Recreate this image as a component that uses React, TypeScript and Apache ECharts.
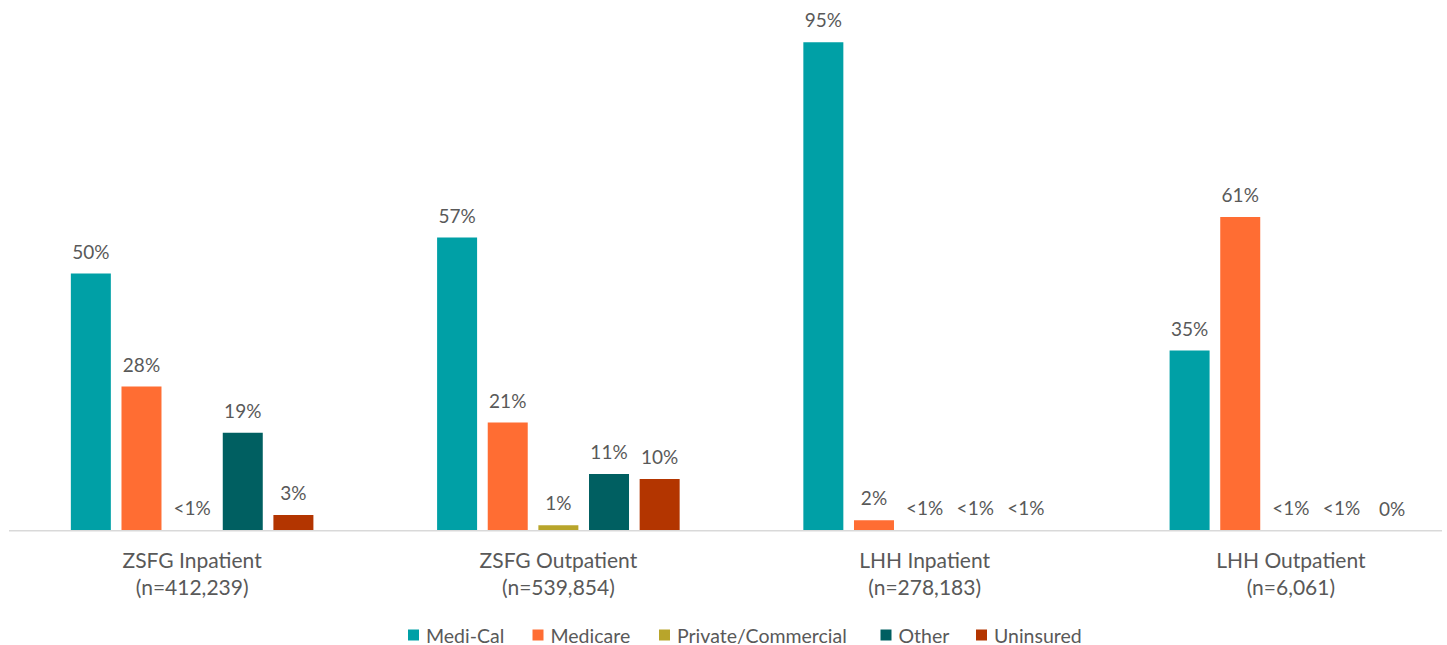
import React, { useEffect, useRef } from "react";
import * as echarts from "echarts";

const categories = [
  "ZSFG Inpatient\n(n=412,239)",
  "ZSFG Outpatient\n(n=539,854)",
  "LHH Inpatient\n(n=278,183)",
  "LHH Outpatient\n(n=6,061)",
];
const seriesNames = ["Medi-Cal", "Medicare", "Private/Commercial", "Other", "Uninsured"];
const mediCal = [50, 57, 95, 35];
const medicare = [28, 21, 2, 61];
const privateCommercial = [0.1, 1, 0.1, 0.1];
const other = [19, 11, 0.1, 0.1];
const uninsured = [3, 10, 0.1, 0];
const seriesColors = ["#00A0A6", "#FF6D33", "#B8A52B", "#005F61", "#B33500"];

const FONT = "Lato, 'Noto Sans', sans-serif";
const TEXT = "#595959";
const legendLefts = [408, 532.5, 659, 880.5, 976];

function fmt(v: number): string {
  if (v === 0) return "0%";
  if (v < 1) return "<1%";
  return Math.round(v) + "%";
}

export default function App() {
  const ref = useRef<HTMLDivElement>(null);
  useEffect(() => {
    if (!ref.current) return;
    const chart = echarts.init(ref.current, undefined, { renderer: "svg" });
    const data = [mediCal, medicare, privateCommercial, other, uninsured];
    chart.setOption({
      animation: false,
      backgroundColor: "#ffffff",
      textStyle: { fontFamily: FONT },
      grid: { left: 9, top: 16.5, width: 1465, height: 514, containLabel: false },
      legend: seriesNames.map((name, i) => ({
        data: [name],
        left: legendLefts[i],
        top: 625,
        padding: 0,
        icon: "rect",
        itemWidth: 11,
        itemHeight: 11,
        textStyle: {
          fontFamily: FONT,
          fontSize: 19.5,
          lineHeight: 20,
          color: TEXT,
          padding: [0, 0, 0, 2],
        },
      })),
      graphic: [
        {
          type: "line",
          shape: { x1: 9, y1: 530.75, x2: 1442, y2: 530.75 },
          style: { stroke: "#D9D9D9", lineWidth: 1.5 },
          z: 10,
        },
      ],
      xAxis: {
        type: "category",
        data: categories,
        axisLine: { show: false },
        axisTick: { show: false },
        axisLabel: {
          fontFamily: FONT,
          fontSize: 21,
          color: TEXT,
          lineHeight: 27,
          margin: 15,
          interval: 0,
        },
      },
      yAxis: {
        type: "value",
        min: 0,
        max: 100,
        show: false,
        splitLine: { show: false },
      },
      series: seriesNames.map((name, i) => ({
        name,
        type: "bar",
        data: data[i],
        barWidth: 40,
        barGap: "26.6%",
        itemStyle: { color: seriesColors[i] },
        label: {
          show: true,
          position: "top",
          distance: 13,
          fontFamily: FONT,
          fontSize: 19,
          color: TEXT,
          formatter: (p: any) => fmt(p.value),
        },
      })),
    });
    return () => chart.dispose();
  }, []);
  return (
    <div
      style={{
        position: "absolute",
        left: 0,
        top: 0,
        width: 1447,
        height: 645,
        overflow: "hidden",
        background: "#fff",
      }}
    >
      <div ref={ref} style={{ width: 1480, height: 645 }} />
    </div>
  );
}
